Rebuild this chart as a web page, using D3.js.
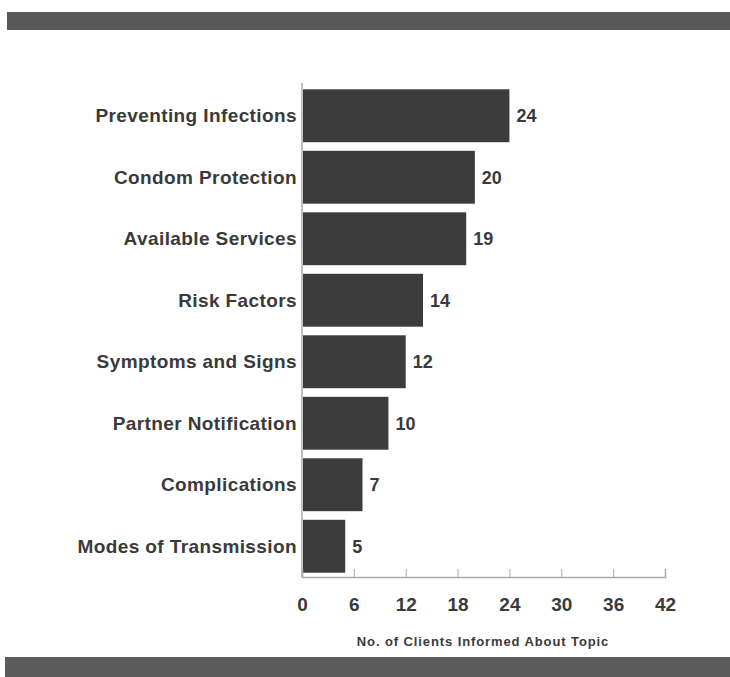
<!DOCTYPE html>
<html>
<head>
<meta charset="utf-8">
<script src="https://cdn.jsdelivr.net/npm/d3@7"></script>
<style>
  body { margin: 0; background: #fff; }
  text { font-family: "Liberation Sans", Arial, sans-serif; font-weight: bold; fill: #3a3a3a; }
</style>
</head>
<body>
<div id="chart"></div>
<script>
// Topics and client counts
const topics = ["Preventing Infections", "Condom Protection", "Available Services", "Risk Factors",
  "Symptoms and Signs", "Partner Notification", "Complications", "Modes of Transmission"];
const clients = [24, 20, 19, 14, 12, 10, 7, 5];
const xTicks = [0, 6, 12, 18, 24, 30, 36, 42];
const xTitle = "No. of Clients Informed About Topic";

const data = topics.map((t, i) => ({ topic: t, value: clients[i] }));

const width = 730, height = 677;

const svg = d3.select("#chart")
  .append("svg")
  .attr("width", width)
  .attr("height", height);

// dark bands at top and bottom (scanned page frame)
svg.append("rect").attr("x", 7).attr("y", 12).attr("width", 723).attr("height", 18).attr("fill", "#585858");
svg.append("rect").attr("x", 5).attr("y", 657).attr("width", 725).attr("height", 20).attr("fill", "#5c5c5c");

const x = d3.scaleLinear().domain([0, 42]).range([302, 665]);
const y = d3.scaleBand().domain(topics).range([85, 577]).paddingInner(0.14).paddingOuter(0.07);

// bars
svg.selectAll("rect.bar")
  .data(data)
  .enter().append("rect")
  .attr("class", "bar")
  .attr("x", x(0) + 1)
  .attr("y", d => y(d.topic))
  .attr("width", d => x(d.value) - x(0) - 1)
  .attr("height", y.bandwidth())
  .attr("fill", "#3c3c3c");

// value labels
svg.selectAll("text.val")
  .data(data)
  .enter().append("text")
  .attr("class", "val")
  .attr("x", d => x(d.value) + 7)
  .attr("y", d => y(d.topic) + y.bandwidth() / 2)
  .attr("dy", "0.35em")
  .attr("font-size", 18)
  .text(d => d.value);

// category labels
svg.selectAll("text.cat")
  .data(data)
  .enter().append("text")
  .attr("class", "cat")
  .attr("x", 297)
  .attr("y", d => y(d.topic) + y.bandwidth() / 2)
  .attr("dy", "0.35em")
  .attr("text-anchor", "end")
  .attr("font-size", 19)
  .attr("letter-spacing", 0.4)
  .text(d => d.topic);

// left axis line
svg.append("line")
  .attr("x1", x(0)).attr("x2", x(0))
  .attr("y1", 83).attr("y2", 577)
  .attr("stroke", "#aaa").attr("stroke-width", 1.5);

// bottom axis with ticks pointing up
const xAxis = svg.append("g")
  .attr("transform", "translate(0,577)")
  .call(d3.axisBottom(x).tickValues(xTicks).tickSize(-8).tickPadding(21));
xAxis.select(".domain").attr("stroke", "#aaa").attr("stroke-width", 1.5);
xAxis.selectAll(".tick line").attr("stroke", "#aaa");
xAxis.selectAll(".tick text")
  .attr("font-size", 19)
  .attr("font-family", "Liberation Sans, Arial, sans-serif")
  .attr("font-weight", "bold")
  .attr("fill", "#3a3a3a");
xAxis.selectAll(".tick").filter(d => d === 0).select("line").remove();

// axis title
svg.append("text")
  .attr("x", 483)
  .attr("y", 646)
  .attr("text-anchor", "middle")
  .attr("font-size", 13)
  .attr("letter-spacing", 0.9)
  .text(xTitle);
</script>
</body>
</html>
